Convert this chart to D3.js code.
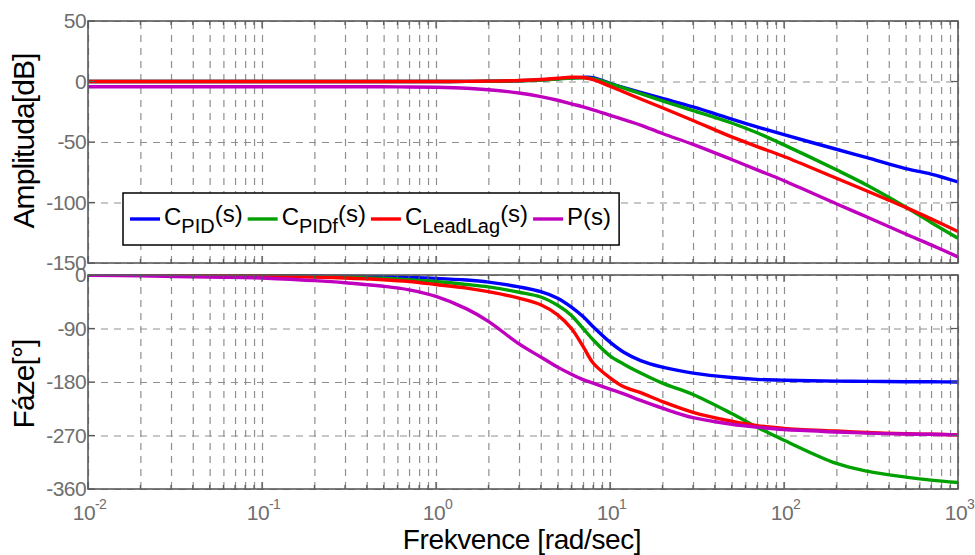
<!DOCTYPE html>
<html><head><meta charset="utf-8">
<script src="https://cdn.jsdelivr.net/npm/d3@7"></script>
<style>
body{margin:0;background:#fff;}
svg{display:block;font-family:Arial,"Liberation Sans",sans-serif;}
</style></head><body>
<svg id="c" width="975" height="555"></svg>
<script>
// ---------- data ----------
const freq = [0.01,0.02,0.05,0.1,0.2,0.3,0.5,0.7,1,1.5,2,3,4,5,6,7,8,10,12,15,20,30,50,70,100,200,300,500,700,1000];

const magPID  = [0,0,0,0,0,0,0,0,0,0.1,0.2,0.6,1.3,2.2,3.0,3.4,3.2,-1.5,-5,-9,-14,-21,-31,-37.5,-44,-56,-63,-72,-76.5,-83];
const magPIDf = [0,0,0,0,0,0,0,0,0,0.1,0.2,0.6,1.3,2.1,2.8,3.0,2.4,-1.7,-5.5,-10.1,-16,-24,-34.3,-42.4,-52.4,-73,-85.7,-103.7,-116.5,-129.6];
const magLL   = [0,0,0,0,0,0,0,0,0,0.1,0.3,0.8,1.6,2.7,3.5,3.3,1.5,-3.9,-8.7,-14.5,-21.7,-32.2,-45.8,-53.8,-62,-80,-90.5,-104,-113.5,-124];
const magP    = [-4.4,-4.4,-4.4,-4.4,-4.4,-4.4,-4.4,-4.5,-4.8,-5.6,-6.8,-9.5,-12.5,-15.5,-18.5,-21,-23.5,-28,-31.5,-36,-43,-52,-64.5,-73,-82,-101,-112,-126,-135,-145];

const phPID  = [0,-0.3,-0.6,-1,-1.7,-2.2,-3,-4,-5.6,-8.5,-12,-20,-28,-39,-54,-70,-87,-113,-130,-144,-155,-165,-172.5,-175.5,-177,-178.5,-179,-179.5,-179.7,-180];
const phPIDf = [0,-0.3,-0.8,-1.3,-2.5,-3.5,-5.5,-8,-11,-16,-20,-29,-37,-51,-68,-90,-109,-136,-150,-165,-182,-201,-233,-256,-278,-317,-330,-340,-345,-349];
const phLL   = [0,-0.4,-1,-1.8,-3.5,-5,-8,-11,-16,-22,-28,-39,-50,-67,-90,-120,-148,-173,-188,-198,-213,-231,-246,-253.5,-258,-262.5,-265,-267,-268,-269];
const phP    = [-0.5,-1.5,-3.5,-5,-9.5,-13,-19,-25,-36,-57,-78,-116,-138,-155,-167,-176,-182,-192,-200,-211,-224,-240,-251,-256,-260,-264,-266,-267.5,-268,-269];

const seriesColors = ["#0000ff","#00a000","#ff0000","#bf00bf"];
const legendMain = ["C","C","C","P(s)"];
const legendSub  = ["PID","PIDf","LeadLag",""];
const legendTail = ["(s)","(s)","(s)",""];

const magTicks   = [50,0,-50,-100,-150];
const phaseTicks = [0,-90,-180,-270,-360];
const freqTicks  = [0.01,0.1,1,10,100,1000];
const freqExp    = ["-2","-1","0","1","2","3"];

const magTitle = "Amplituda[dB]";
const phTitle  = "Fáze[°]";
const xTitle   = "Frekvence [rad/sec]";

// ---------- layout ----------
const left=88, right=958;
const magTop=21, magBot=263, phTop=275, phBot=489;
const svg = d3.select("#c");

const x = d3.scaleLog().domain([1e-2,1e3]).range([left,right]);
const yMag = d3.scaleLinear().domain([-150,50]).range([magBot,magTop]);
const yPh  = d3.scaleLinear().domain([-360,0]).range([phBot,phTop]);

const gridX = [];
for (let e=-2;e<3;e++) for (let m=1;m<10;m++) gridX.push(m*Math.pow(10,e));
gridX.push(1000);
const isMajor = v => Math.abs(Math.log10(v)-Math.round(Math.log10(v)))<1e-9;

const gridColor="#8f8f8f", boxColor="#5a5a5a", labColor="#6e6e6e";

function panel(y, top, bot, yTicks, mags, id){
  const h = bot-top;
  const g = svg.append("g");
  const gx = g.append("g").attr("transform",`translate(0,${bot})`)
    .call(d3.axisBottom(x).tickValues(gridX).tickSize(-h).tickFormat(""));
  gx.select(".domain").remove();
  gx.selectAll("line").attr("stroke",gridColor).attr("stroke-width",1.2).attr("stroke-dasharray","7,6");
  const gy = g.append("g").attr("transform",`translate(${left},0)`)
    .call(d3.axisLeft(y).tickValues(yTicks).tickSize(-(right-left)).tickFormat(""));
  gy.select(".domain").remove();
  gy.selectAll("line").attr("stroke",gridColor).attr("stroke-width",1.2).attr("stroke-dasharray","7,6");

  svg.append("clipPath").attr("id",id).append("rect")
    .attr("x",left).attr("y",top-1).attr("width",right-left).attr("height",h+2);
  const line = d3.line().x(d=>x(d[0])).y(d=>y(d[1])).curve(d3.curveCatmullRom.alpha(0.5));
  const lg = g.append("g").attr("clip-path",`url(#${id})`);
  mags.forEach((arr,i)=>{
    lg.append("path").datum(freq.map((f,k)=>[f,arr[k]]))
      .attr("d",line).attr("fill","none").attr("stroke",seriesColors[i])
      .attr("stroke-width",3.4).attr("stroke-linejoin","round");
  });

  g.append("rect").attr("x",left).attr("y",top).attr("width",right-left).attr("height",h)
    .attr("fill","none").attr("stroke",boxColor).attr("stroke-width",1.6);

  const ticksG = g.append("g").attr("stroke",boxColor).attr("stroke-width",1.2);
  gridX.forEach(v=>{
    const len = isMajor(v)?7:4;
    ticksG.append("line").attr("x1",x(v)).attr("x2",x(v)).attr("y1",bot).attr("y2",bot-len);
    ticksG.append("line").attr("x1",x(v)).attr("x2",x(v)).attr("y1",top).attr("y2",top+len);
  });
  yTicks.forEach(v=>{
    ticksG.append("line").attr("x1",left).attr("x2",left+7).attr("y1",y(v)).attr("y2",y(v));
    ticksG.append("line").attr("x1",right).attr("x2",right-7).attr("y1",y(v)).attr("y2",y(v));
  });

  const ya = g.append("g").attr("transform",`translate(${left},0)`)
    .call(d3.axisLeft(y).tickValues(yTicks).tickSize(0).tickPadding(2).tickFormat(d=>String(d)));
  ya.select(".domain").remove();
  ya.selectAll("text").attr("fill",labColor).style("font-size","21px").style("font-family","Arial,'Liberation Sans',sans-serif").style("letter-spacing","-0.6px");
  return g;
}

panel(yMag, magTop, magBot, magTicks, [magPID,magPIDf,magLL,magP], "clipMag");
panel(yPh, phTop, phBot, phaseTicks, [phPID,phPIDf,phLL,phP], "clipPh");

const xa = svg.append("g").attr("transform",`translate(0,${phBot})`)
  .call(d3.axisBottom(x).tickValues(freqTicks).tickSize(0).tickFormat(""));
xa.select(".domain").remove();
xa.selectAll(".tick").each(function(d,i){
  const t = d3.select(this).append("text").attr("x",1).attr("y",31)
    .attr("text-anchor","middle").attr("fill",labColor)
    .style("font-size","21px").style("letter-spacing","-0.6px");
  t.append("tspan").text("10");
  t.append("tspan").attr("dy",-11).style("font-size","14px").text(freqExp[i]);
});

svg.append("text").attr("transform","translate(34,141) rotate(-90)")
  .attr("text-anchor","middle").style("font-size","30px").style("letter-spacing","-0.9px")
  .attr("fill","#000").text(magTitle);
svg.append("text").attr("transform","translate(34,384) rotate(-90)")
  .attr("text-anchor","middle").style("font-size","30px").style("letter-spacing","-0.9px")
  .attr("fill","#000").text(phTitle);
svg.append("text").attr("x",522).attr("y",549).attr("text-anchor","middle")
  .style("font-size","28px").style("letter-spacing","-0.4px").attr("fill","#000").text(xTitle);

const lgX=123, lgY=193, lgH=52;
const leg = svg.append("g");
const box = leg.append("rect").attr("x",lgX).attr("y",lgY).attr("height",lgH)
  .attr("fill","#fff").attr("stroke","#000").attr("stroke-width",1.5);
let cx = lgX+7;
const midY = lgY+26;
legendMain.forEach((m,i)=>{
  leg.append("line").attr("x1",cx).attr("x2",cx+30).attr("y1",midY).attr("y2",midY)
    .attr("stroke",seriesColors[i]).attr("stroke-width",3.4);
  cx += 34;
  const t1 = leg.append("text").attr("x",cx).attr("y",lgY+32).style("font-size","24px").text(m);
  cx += t1.node().getComputedTextLength();
  if (legendSub[i]) {
    const t2 = leg.append("text").attr("x",cx).attr("y",lgY+40).style("font-size","20px").text(legendSub[i]);
    cx += t2.node().getComputedTextLength();
  }
  if (legendTail[i]) {
    const t3 = leg.append("text").attr("x",cx).attr("y",lgY+29).style("font-size","24px").text(legendTail[i]);
    cx += t3.node().getComputedTextLength();
  }
  cx += 5;
});
box.attr("width", cx - lgX + 3);
</script>
</body></html>
